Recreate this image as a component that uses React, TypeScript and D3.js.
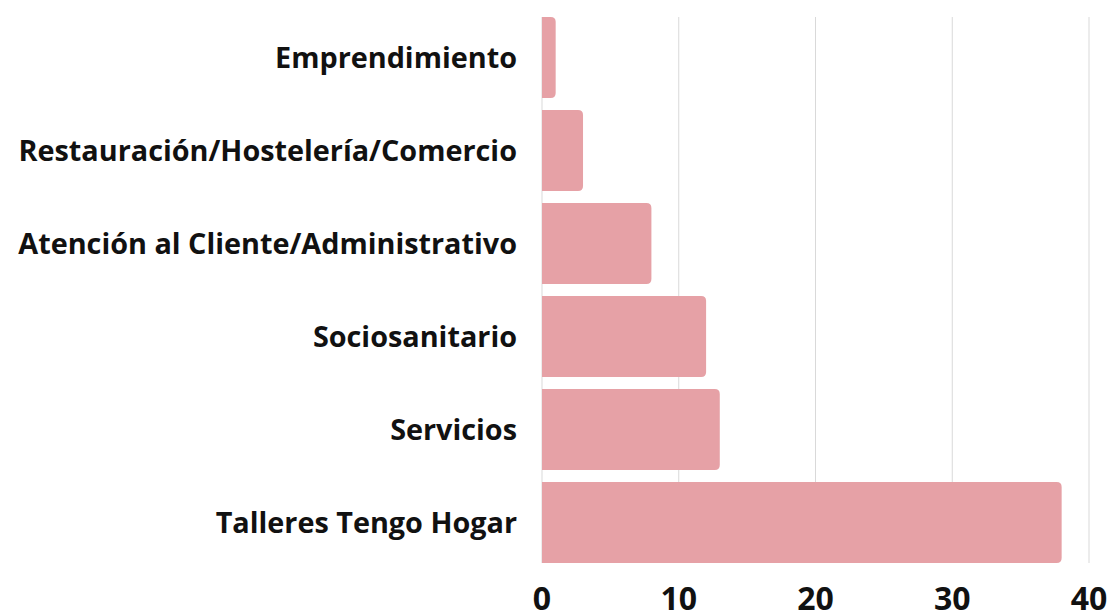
import React from "react";
import * as d3 from "d3";

const categories = [
  "Emprendimiento",
  "Restauración/Hostelería/Comercio",
  "Atención al Cliente/Administrativo",
  "Sociosanitario",
  "Servicios",
  "Talleres Tengo Hogar",
];
const values = [1, 3, 8, 12, 13, 38];
const ticks = [0, 10, 20, 30, 40];

const W = 1110;
const H = 612;

function barPath(x0: number, x1: number, y0: number, h: number, r: number) {
  const rr = Math.min(r, (x1 - x0) / 2, h / 2);
  return `M${x0},${y0}H${x1 - rr}Q${x1},${y0} ${x1},${y0 + rr}V${y0 + h - rr}Q${x1},${y0 + h} ${x1 - rr},${y0 + h}H${x0}Z`;
}

export default function App() {
  const x = d3.scaleLinear().domain([0, 40]).range([542, 1089]);
  const y = d3
    .scaleBand<string>()
    .domain(categories)
    .range([11, 569])
    .paddingInner(0.13)
    .paddingOuter(0.065);
  const font = "'Open Sans', sans-serif";
  return (
    <svg width={W} height={H} style={{ position: "absolute", left: 0, top: 0 }}>
      <rect width={W} height={H} fill="#fff" />
      {ticks.map((t) => (
        <line
          key={"g" + t}
          x1={x(t)}
          x2={x(t)}
          y1={17}
          y2={563}
          stroke="#d9d9d9"
          strokeWidth={1}
        />
      ))}
      {categories.map((c, i) => (
        <path
          key={c}
          d={barPath(x(0), x(values[i]), y(c)!, y.bandwidth(), 5)}
          fill="#e6a1a6"
        />
      ))}
      {categories.map((c) => (
        <text
          key={"l" + c}
          x={517}
          y={y(c)! + y.bandwidth() / 2}
          dy="0.35em"
          textAnchor="end"
          fontFamily={font}
          fontWeight={700}
          fontSize={28.8}
          fill="#111"
        >
          {c}
        </text>
      ))}
      {ticks.map((t) => (
        <text
          key={"t" + t}
          x={x(t)}
          y={610}
          textAnchor="middle"
          fontFamily={font}
          fontWeight={700}
          fontSize={32}
          fill="#111"
        >
          {t}
        </text>
      ))}
    </svg>
  );
}
